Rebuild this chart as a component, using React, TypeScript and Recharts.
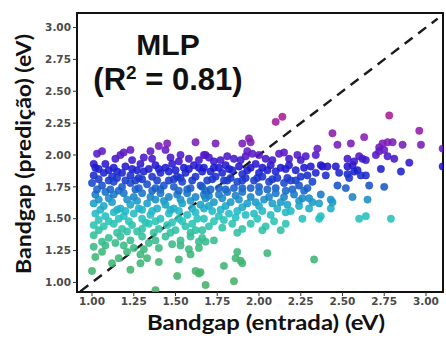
import { ScatterChart, Scatter, XAxis, YAxis, ReferenceLine, ReferenceArea } from 'recharts'

type Pt = [number, number]

// [entrada, predicao] in eV
const purplePts: Pt[] = [
  [1.03, 2.01], [1.06, 2.03], [1.17, 2.0], [1.19, 2.02], [1.23, 2.04], [1.35, 2.03], [1.4, 2.07],
  [1.45, 2.09], [1.44, 2.04], [1.53, 2.0], [1.62, 2.1], [1.67, 2.0], [1.24, 1.96], [1.52, 1.95],
  [2.1, 2.26], [2.14, 2.3], [1.74, 2.09], [1.9, 2.09], [1.94, 2.13], [1.95, 2.1], [1.93, 2.03],
  [1.96, 2.01], [1.68, 2.0], [1.81, 1.99], [1.85, 1.97], [1.73, 1.95], [1.77, 1.96], [1.89, 1.96],
  [2.0, 2.0], [2.04, 1.97], [2.12, 2.01], [2.15, 2.02], [2.23, 2.0], [2.25, 1.96], [2.35, 2.05],
  [2.34, 2.0], [2.78, 2.31], [2.96, 2.19], [2.44, 2.17], [2.63, 2.14], [2.47, 2.08], [2.55, 2.09],
  [2.72, 2.06], [2.74, 2.09], [2.77, 2.1], [2.8, 2.1], [2.72, 2.03], [2.75, 2.04], [2.7, 2.0],
  [2.86, 2.08], [2.97, 2.08], [3.1, 2.05], [2.77, 1.99], [2.81, 1.97], [2.53, 1.97], [2.6, 1.99],
  [2.62, 1.97], [2.64, 1.96], [2.57, 1.95], [1.31, 1.98], [1.58, 1.97], [2.08, 1.96],
  [1.14, 1.97], [1.36, 1.97], [1.47, 1.98], [1.64, 1.96], [1.7, 1.98], [1.92, 1.99], [2.18, 1.97],
  [2.28, 1.99],
]

const bluePts: Pt[] = [
  [1.01, 1.93], [1.02, 1.9], [1.08, 1.93], [1.1, 1.88], [1.15, 1.87], [1.29, 1.93], [1.38, 1.92],
  [1.44, 1.9], [1.55, 1.9], [1.61, 1.92], [1.2, 1.91], [1.48, 1.93], [1.34, 1.89],
  [1.01, 1.84], [1.07, 1.86], [1.12, 1.83], [1.18, 1.86], [1.23, 1.84], [1.28, 1.82], [1.31, 1.87],
  [1.36, 1.83], [1.41, 1.86], [1.46, 1.87], [1.51, 1.83], [1.56, 1.86], [1.62, 1.83], [1.66, 1.87],
  [1.0, 1.78], [1.06, 1.76], [1.13, 1.79], [1.18, 1.75], [1.23, 1.78], [1.28, 1.74], [1.33, 1.77],
  [1.38, 1.74], [1.43, 1.76], [1.49, 1.75], [1.54, 1.79], [1.59, 1.74], [1.65, 1.76], [1.1, 1.8],
  [1.26, 1.8], [1.46, 1.8], [2.38, 1.91], [1.67, 1.9], [1.71, 1.87], [1.76, 1.9], [1.8, 1.92],
  [1.84, 1.88], [1.88, 1.91], [1.93, 1.88], [1.98, 1.93], [2.02, 1.9], [2.07, 1.92], [2.1, 1.87],
  [2.13, 1.9], [2.18, 1.92], [2.22, 1.88], [2.29, 1.84], [2.31, 1.91], [2.25, 1.83], [1.69, 1.8],
  [1.74, 1.83], [1.79, 1.8], [1.83, 1.82], [1.87, 1.79], [1.92, 1.82], [1.97, 1.8], [2.02, 1.83],
  [2.06, 1.79], [2.11, 1.82], [2.15, 1.78], [2.19, 1.8], [2.24, 1.76], [2.29, 1.74], [1.66, 1.75],
  [1.71, 1.73], [1.76, 1.74], [1.85, 1.74], [1.95, 1.74], [2.05, 1.73], [2.16, 1.72], [1.9, 1.85],
  [2.0, 1.86], [1.78, 1.86], [3.1, 1.91], [2.9, 1.94], [2.73, 1.89], [2.85, 1.87], [2.75, 1.75],
  [2.56, 1.92], [2.53, 1.91], [2.37, 1.92], [2.41, 1.91], [2.46, 1.91], [2.4, 1.84], [2.48, 1.86],
  [2.53, 1.85], [2.57, 1.87], [2.59, 1.88], [2.61, 1.84], [2.64, 1.84], [2.54, 1.82], [2.66, 1.76],
  [2.52, 1.74], [2.47, 1.76],
  [1.04, 1.89], [1.13, 1.9], [1.24, 1.89], [1.27, 1.88], [1.4, 1.89], [1.5, 1.88], [1.58, 1.89],
  [1.64, 1.9], [1.73, 1.9], [1.82, 1.89], [1.95, 1.9], [2.05, 1.88], [2.16, 1.89], [2.27, 1.9],
  [2.34, 1.86], [1.04, 1.81], [1.15, 1.82], [1.2, 1.8], [1.3, 1.81], [1.39, 1.8], [1.49, 1.81],
  [1.53, 1.82], [1.6, 1.8], [1.72, 1.81], [1.81, 1.8], [1.9, 1.8], [1.99, 1.82], [2.08, 1.81],
  [2.17, 1.82], [2.22, 1.8], [2.32, 1.79], [1.03, 1.73], [1.11, 1.73], [1.16, 1.72], [1.26, 1.73],
  [1.36, 1.72], [1.41, 1.73], [1.52, 1.72], [1.57, 1.73], [1.68, 1.72], [1.8, 1.73], [1.9, 1.74],
  [2.0, 1.75], [2.1, 1.74], [2.2, 1.73], [2.27, 1.72],
]

const cyanPts: Pt[] = [
  [1.02, 1.69], [1.08, 1.71], [1.13, 1.69], [1.19, 1.7], [1.25, 1.67], [1.3, 1.7], [1.35, 1.67],
  [1.41, 1.7], [1.46, 1.67], [1.51, 1.69], [1.57, 1.7], [1.62, 1.67], [1.67, 1.69], [1.01, 1.62],
  [1.07, 1.6], [1.12, 1.63], [1.17, 1.58], [1.23, 1.61], [1.28, 1.58], [1.33, 1.62], [1.39, 1.58],
  [1.44, 1.61], [1.49, 1.58], [1.54, 1.62], [1.6, 1.58], [1.65, 1.61], [1.02, 1.54], [1.08, 1.52],
  [1.13, 1.55], [1.19, 1.52], [1.25, 1.54], [1.3, 1.5], [1.35, 1.53], [1.41, 1.5], [1.46, 1.54],
  [1.52, 1.5], [1.57, 1.53], [1.63, 1.5], [1.01, 1.45], [1.07, 1.44], [1.13, 1.46], [1.18, 1.42],
  [1.24, 1.45], [1.3, 1.42], [1.34, 1.46], [1.4, 1.42], [1.45, 1.45], [1.5, 1.41], [1.56, 1.44],
  [1.62, 1.41], [1.81, 1.71], [1.9, 1.71], [2.0, 1.71], [2.1, 1.7], [2.21, 1.69], [2.26, 1.66],
  [2.32, 1.63], [2.36, 1.62], [1.68, 1.66], [1.73, 1.63], [1.78, 1.66], [1.83, 1.63], [1.88, 1.65],
  [1.93, 1.62], [1.98, 1.63], [2.03, 1.65], [2.08, 1.62], [2.13, 1.63], [2.17, 1.61], [1.67, 1.58],
  [1.72, 1.56], [1.77, 1.57], [1.82, 1.54], [1.87, 1.56], [1.92, 1.53], [1.97, 1.54], [2.02, 1.56],
  [2.07, 1.53], [2.19, 1.56], [1.67, 1.5], [1.73, 1.48], [1.79, 1.49], [1.84, 1.46], [1.9, 1.42],
  [1.95, 1.46], [2.02, 1.41], [2.04, 1.44], [2.13, 1.41], [2.36, 1.5], [1.66, 1.41], [2.56, 1.67],
  [2.65, 1.65], [2.43, 1.65], [2.44, 1.63], [2.43, 1.58], [2.37, 1.69], [2.6, 1.5], [2.64, 1.52],
  [2.79, 1.5], [2.37, 1.52],
  [1.04, 1.65], [1.1, 1.66], [1.21, 1.65], [1.27, 1.64], [1.38, 1.65], [1.43, 1.64], [1.53, 1.65],
  [1.59, 1.64], [1.7, 1.68], [1.76, 1.69], [1.86, 1.68], [1.95, 1.67], [2.06, 1.67], [2.15, 1.67],
  [2.24, 1.64], [2.3, 1.66], [1.05, 1.57], [1.15, 1.57], [1.2, 1.56], [1.3, 1.57], [1.36, 1.56],
  [1.47, 1.57], [1.52, 1.56], [1.62, 1.55], [1.7, 1.6], [1.8, 1.6], [1.9, 1.59], [2.0, 1.6],
  [2.11, 1.58], [2.16, 1.55], [2.24, 1.6], [2.3, 1.58], [1.04, 1.49], [1.1, 1.48], [1.16, 1.5],
  [1.22, 1.48], [1.32, 1.47], [1.38, 1.48], [1.48, 1.47], [1.54, 1.48], [1.6, 1.46], [1.76, 1.52],
  [1.86, 1.51], [1.99, 1.5], [2.09, 1.48], [2.16, 1.46], [2.26, 1.5], [1.04, 1.41], [1.15, 1.39],
  [1.21, 1.4], [1.27, 1.4], [1.37, 1.39], [1.47, 1.39], [1.59, 1.39], [1.7, 1.44], [1.78, 1.43],
  [1.87, 1.39],
]

const greenPts: Pt[] = [
  [1.01, 1.37], [1.1, 1.35], [1.17, 1.36], [1.23, 1.33], [1.3, 1.36], [1.38, 1.33], [1.44, 1.36],
  [1.53, 1.33], [1.59, 1.36], [1.64, 1.32], [1.01, 1.28], [1.08, 1.29], [1.19, 1.29], [1.25, 1.27],
  [1.31, 1.26], [1.4, 1.27], [1.53, 1.29], [1.58, 1.26], [1.64, 1.27], [1.02, 1.2], [1.16, 1.19],
  [1.29, 1.22], [1.33, 1.19], [1.4, 1.16], [1.52, 1.18], [1.59, 1.22], [1.0, 1.09], [1.23, 1.1],
  [1.29, 1.15], [1.51, 1.05], [1.62, 1.09], [1.64, 1.07], [1.38, 0.94], [1.73, 1.33], [1.68, 1.32],
  [1.66, 1.35], [1.87, 1.24], [2.05, 1.23], [1.86, 1.19], [1.89, 1.17], [1.9, 1.15], [1.79, 1.13],
  [2.33, 1.18], [1.85, 1.01], [1.68, 0.98], [1.65, 1.08], [1.06, 1.32], [1.14, 1.31], [1.34, 1.31],
  [1.48, 1.3], [1.06, 1.24], [1.21, 1.24], [1.12, 1.15],
]

const xTicks = [1, 1.25, 1.5, 1.75, 2, 2.25, 2.5, 2.75, 3]
const yTicks = [1, 1.25, 1.5, 1.75, 2, 2.25, 2.5, 2.75, 3]

const X_DOM: [number, number] = [0.91, 3.102]
const Y_DOM: [number, number] = [0.925, 3.114]

// colour ramp on predicted value (green -> cyan -> blue -> purple -> magenta)
const STOPS: [number, number[]][] = [
  [1.0, [70, 176, 104]],
  [1.25, [60, 184, 124]],
  [1.38, [50, 192, 156]],
  [1.48, [40, 196, 184]],
  [1.56, [32, 184, 200]],
  [1.64, [26, 150, 200]],
  [1.72, [24, 104, 200]],
  [1.8, [26, 60, 204]],
  [1.9, [30, 24, 206]],
  [2.0, [84, 24, 200]],
  [2.1, [126, 30, 182]],
  [2.3, [170, 30, 150]],
]

function colorFor(v: number) {
  if (v <= STOPS[0][0]) return `rgb(${STOPS[0][1].join(',')})`
  for (let i = 1; i < STOPS.length; i++) {
    const [v1, c1] = STOPS[i]
    const [v0, c0] = STOPS[i - 1]
    if (v <= v1) {
      const t = (v - v0) / (v1 - v0)
      const c = c0.map((a, k) => Math.round(a + (c1[k] - a) * t))
      return `rgb(${c.join(',')})`
    }
  }
  return `rgb(${STOPS[STOPS.length - 1][1].join(',')})`
}

const points = [...purplePts, ...bluePts, ...cyanPts, ...greenPts]
  .map(([x, y]) => ({ x, y }))
  .sort((a, b) => a.x - b.x)

const Dot = (p: any) => {
  if (p.cx == null || p.cy == null) return null
  const c = colorFor(p.payload.y)
  return <circle cx={p.cx} cy={p.cy} r={3.7} fill={c} fillOpacity={0.88} stroke={c} strokeOpacity={0.6} strokeWidth={0.8} />
}

const tickStyle = { fontSize: 10.5, fontWeight: 700, fill: '#4a4a4a', fontFamily: 'DejaVu Sans' }
const fmt = (v: number) => v.toFixed(2)

export default function App() {
  return (
    <div style={{ position: 'absolute', left: 0, top: 0, width: 446, height: 340, background: '#fff' }}>
      <ScatterChart width={446} height={340} margin={{ top: 13, right: 3, bottom: 0, left: 0 }}>
        <XAxis
          type="number"
          dataKey="x"
          domain={X_DOM}
          allowDataOverflow
          ticks={xTicks}
          tickFormatter={fmt}
          tick={tickStyle}
          tickSize={4}
          tickLine={{ stroke: '#333' }}
          axisLine={false}
          height={48}
        />
        <YAxis
          type="number"
          dataKey="y"
          domain={Y_DOM}
          allowDataOverflow
          ticks={yTicks}
          tickFormatter={fmt}
          tick={tickStyle}
          tickSize={4}
          tickLine={{ stroke: '#333' }}
          axisLine={false}
          width={77}
        />
        <Scatter data={points} shape={Dot} isAnimationActive={false} />
        <ReferenceLine
          segment={[{ x: 0.93, y: 0.93 }, { x: 3.07, y: 3.07 }]}
          stroke="#1a1a1a"
          strokeWidth={2.4}
          strokeDasharray="10 7"
        />
        <ReferenceArea x1={X_DOM[0]} x2={X_DOM[1]} y1={Y_DOM[0]} y2={Y_DOM[1]} fill="none" stroke="#111" strokeWidth={2} />
      </ScatterChart>
      <svg width={446} height={340} style={{ position: 'absolute', left: 0, top: 0, pointerEvents: 'none' }}>
        <text x={168} y={55} textAnchor="middle" fontFamily="Liberation Sans" fontWeight={700} fontSize={30} fill="#111">MLP</text>
        <text x={168} y={90} textAnchor="middle" fontFamily="Liberation Sans" fontWeight={700} fontSize={31} fill="#111">
          (R<tspan fontSize={19} dy={-11}>2</tspan><tspan dy={11}> = 0.81)</tspan>
        </text>
        <text x={266} y={330} textAnchor="middle" fontFamily="Lato" fontWeight={700} fontSize={21} fill="#111"
          textLength={238} lengthAdjust="spacingAndGlyphs">Bandgap (entrada) (eV)</text>
        <text x={31} y={154} textAnchor="middle" fontFamily="Lato" fontWeight={700} fontSize={21} fill="#111"
          textLength={240} lengthAdjust="spacingAndGlyphs" transform="rotate(-90 31 154)">Bandgap (predição) (eV)</text>
      </svg>
    </div>
  )
}
